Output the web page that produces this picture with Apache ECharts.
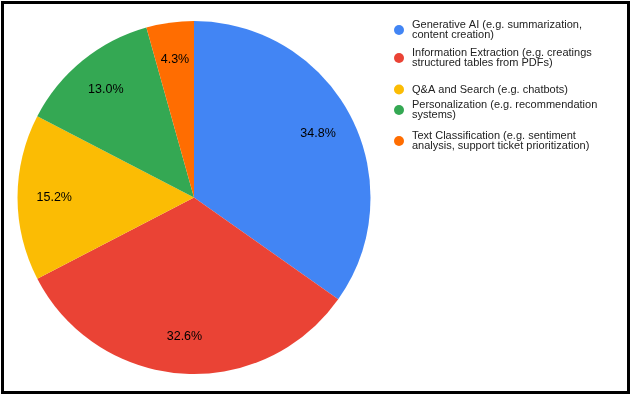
<!DOCTYPE html>
<html>
<head>
<meta charset="utf-8">
<script src="https://cdn.jsdelivr.net/npm/echarts@6/dist/echarts.min.js"></script>
<style>
	html, body { margin: 0; padding: 0; background: #fff; }
	#chart { position: absolute; left: 0; top: 0; width: 638px; height: 399px; }
	#frame { position: absolute; left: 1px; top: 1px; width: 623px; height: 387px; border: 3px solid #000; pointer-events: none; }
</style>
</head>
<body>
<div id="chart"></div>
<div id="frame"></div>
<script>
var categories = [
	'Generative AI (e.g. summarization,\ncontent creation)',
	'Information Extraction (e.g. creatings\nstructured tables from PDFs)',
	'Q&A and Search (e.g. chatbots)',
	'Personalization (e.g. recommendation\nsystems)',
	'Text Classification (e.g. sentiment\nanalysis, support ticket prioritization)'
];
var counts = [16, 15, 7, 6, 2];
var colors = ['#4285F4', '#EA4335', '#FBBC04', '#34A853', '#FF6D01'];
var legendTops = [14, 42, 84, 94, 125];

var font = '"Liberation Sans", Arial, sans-serif';
var pieCenter = [194, 197.5];
var pieR = 176.5;

chart();

function chart() {
	var myChart = echarts.init(document.getElementById('chart'));

	var pieData = [];
	for (var i = 0; i < categories.length; i++) {
		pieData.push({ name: categories[i], value: counts[i], itemStyle: { color: colors[i] } });
	}

	// one legend per item so the icon lines up with the first text line
	var legends = [];
	for (var j = 0; j < categories.length; j++) {
		var twoLines = categories[j].indexOf('\n') >= 0;
		legends.push({
			orient: 'vertical',
			left: 394,
			top: legendTops[j],
			padding: 0,
			icon: 'circle',
			itemWidth: 16,
			itemHeight: 10,
			selectedMode: false,
			data: [categories[j]],
			textStyle: {
				fontFamily: font,
				fontSize: 11,
				lineHeight: 10.7,
				color: '#222',
				padding: twoLines ? [10.7, 0, 0, 0] : 0
			}
		});
	}

	var option = {
		animation: false,
		legend: legends,
		series: [{
			name: 'pie',
			type: 'pie',
			center: pieCenter,
			radius: [0, pieR],
			startAngle: 90,
			clockwise: true,
			label: { show: false },
			labelLine: { show: false },
			emphasis: { disabled: true },
			itemStyle: { borderWidth: 0 },
			data: pieData
		}, {
			// transparent ring only used to place the percentage labels
			name: 'labels',
			type: 'pie',
			center: pieCenter,
			radius: [97, pieR],
			startAngle: 90,
			clockwise: true,
			silent: true,
			emphasis: { disabled: true },
			itemStyle: { color: 'rgba(0,0,0,0)', borderWidth: 0 },
			label: {
				show: true,
				position: 'inside',
				fontFamily: font,
				fontSize: 12.5,
				color: '#000',
				formatter: function (p) { return p.percent.toFixed(1) + '%'; }
			},
			labelLine: { show: false },
			data: pieData.map(function (d) { return { name: d.name, value: d.value }; })
		}]
	};
	myChart.setOption(option);
}
</script>
</body>
</html>
